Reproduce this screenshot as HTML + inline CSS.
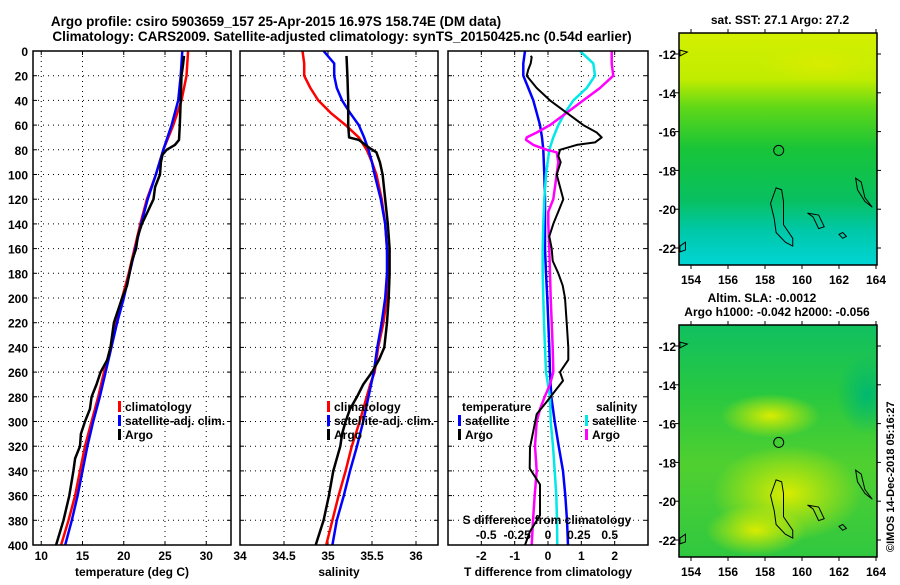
<!DOCTYPE html>
<html><head><meta charset="utf-8">
<style>
body{margin:0;background:#fff;}
svg text{font-family:"Liberation Sans",sans-serif;font-weight:bold;fill:#000;}
</style></head>
<body>
<svg id="fig" width="900" height="580" viewBox="0 0 900 580" xmlns="http://www.w3.org/2000/svg">
<defs>
<linearGradient id="sstGrad" x1="0" y1="0" x2="0" y2="1">
<stop offset="0" stop-color="#d4f000"/><stop offset="0.2" stop-color="#c0ec00"/>
<stop offset="0.32" stop-color="#60d818"/><stop offset="0.5" stop-color="#18c438"/>
<stop offset="0.72" stop-color="#08c060"/><stop offset="0.85" stop-color="#00c8a8"/><stop offset="1" stop-color="#00d4d4"/>
</linearGradient>
<linearGradient id="slaGrad" x1="0" y1="0" x2="0" y2="1">
<stop offset="0" stop-color="#10c060"/><stop offset="0.3" stop-color="#28c840"/>
<stop offset="0.6" stop-color="#50d030"/><stop offset="1" stop-color="#30c840"/>
</linearGradient>
<radialGradient id="slaBlob"><stop offset="0" stop-color="#d8ec00"/><stop offset="1" stop-color="#d8ec00" stop-opacity="0"/></radialGradient>
<radialGradient id="slaBlob2"><stop offset="0" stop-color="#00b870"/><stop offset="1" stop-color="#00b870" stop-opacity="0"/></radialGradient>
<clipPath id="clipMap1"><rect x="679" y="33" width="198" height="232"/></clipPath>
<clipPath id="clipMap2"><rect x="679" y="325" width="198" height="232"/></clipPath>
</defs>
<text x="276" y="26" font-size="13.5" text-anchor="middle">Argo profile: csiro 5903659_157 25-Apr-2015 16.97S 158.74E (DM data)</text>
<text x="342" y="41" font-size="13.5" text-anchor="middle">Climatology: CARS2009. Satellite-adjusted climatology: synTS_20150425.nc (0.54d earlier)</text>
<text x="780" y="24" font-size="12" text-anchor="middle">sat. SST: 27.1 Argo: 27.2</text>
<text x="762" y="302" font-size="12" text-anchor="middle">Altim. SLA: -0.0012</text>
<text x="777" y="316" font-size="12" text-anchor="middle">Argo h1000: -0.042 h2000: -0.056</text>
<text transform="translate(894,552) rotate(-90)" font-size="11">©IMOS 14-Dec-2018 05:16:27</text>
<g id="plots"></g>
</svg>
<script>
// ---- data ----
const depthClim = [0,20,40,60,80,100,120,140,160,180,200,220,240,260,280,300,320,340,360,380,400];
const tempClim = [27.8,27.6,27.0,26.0,24.8,23.9,22.8,22.0,21.3,20.6,19.8,19.1,18.4,17.6,16.9,16.1,15.3,14.7,14.1,13.3,12.4];
const tempSat  = [27.1,26.9,26.6,25.8,24.8,23.9,22.9,22.1,21.4,20.7,20.0,19.2,18.5,17.8,17.1,16.3,15.6,15.0,14.4,13.7,12.9];
const depthArgoT = [4,10,20,40,60,72,76,80,84,90,100,110,120,130,140,150,160,170,180,190,200,220,240,250,260,270,280,290,300,310,320,330,340,360,380,400];
const tempArgo = [27.3,27.2,27.0,26.9,26.8,26.7,26.2,25.2,24.7,24.5,24.4,23.8,23.6,22.9,22.2,21.7,21.5,21.0,20.7,20.4,19.8,18.8,18.4,18.0,17.2,16.7,16.1,15.9,15.3,14.8,14.7,14.1,13.9,13.4,12.7,11.8];
const depthSal = [0,10,20,30,40,50,60,70,80,90,100,120,140,160,180,200,220,240,260,270,280,300,320,340,360,380,400];
const salClim = [34.71,34.73,34.73,34.80,34.89,35.03,35.20,35.35,35.44,35.50,35.55,35.61,35.65,35.67,35.68,35.67,35.63,35.57,35.53,35.48,35.44,35.36,35.27,35.20,35.12,35.05,34.98];
const salSat  = [34.95,35.07,35.07,35.10,35.16,35.25,35.35,35.41,35.46,35.50,35.53,35.60,35.65,35.67,35.67,35.65,35.61,35.56,35.52,35.49,35.46,35.40,35.33,35.25,35.18,35.10,35.05];
const depthArgoS = [4,20,40,60,70,72,78,82,90,100,120,140,160,180,200,220,240,250,260,270,280,290,300,310,320,340,360,380,400];
const salArgo = [35.21,35.22,35.23,35.23,35.24,35.35,35.46,35.55,35.59,35.62,35.65,35.68,35.70,35.70,35.69,35.67,35.64,35.58,35.50,35.40,35.33,35.25,35.20,35.16,35.14,35.06,35.01,34.95,34.86];
const depthDiff = [0,10,20,30,40,50,60,70,80,100,120,140,160,180,200,220,240,260,280,300,320,340,360,380,400];
const dTsat = [-0.69,-0.74,-0.74,-0.59,-0.44,-0.34,-0.24,-0.18,-0.14,-0.11,-0.09,-0.09,-0.09,-0.06,-0.02,0.01,0.04,0.06,0.10,0.20,0.32,0.45,0.52,0.57,0.60];
const dSsatT = [0.96,1.36,1.41,1.16,0.76,0.51,0.31,0.16,0.04,-0.06,-0.11,-0.14,-0.16,-0.16,-0.14,-0.12,-0.09,-0.06,0.06,0.08,0.15,0.20,0.25,0.27,0.28];
const depthDiffArgo = [4,5,10,15,20,30,40,50,60,66,70,74,76,80,85,90,100,110,120,130,140,150,160,170,180,190,200,220,240,250,260,267,284,294,321,338,351,376,389,400];
const dTargo = [-0.52,-0.49,-0.52,-0.59,-0.64,-0.34,0.06,0.56,1.06,1.46,1.61,1.41,0.86,0.36,0.31,0.38,0.26,0.36,0.46,0.31,0.16,0.04,0.11,0.14,0.31,0.44,0.51,0.56,0.61,0.61,0.36,0.45,-0.04,-0.34,-0.54,-0.55,-0.24,-0.24,-0.54,-0.69];
const depthDiffS = [0,10,20,30,40,50,60,66,70,72,76,80,82,90,100,120,130,140,160,180,200,220,240,260,270,280,290,300,320,340,360,380,400];
const dSargoT = [1.91,1.91,1.96,1.56,1.06,0.56,0.06,-0.34,-0.64,-0.66,-0.44,-0.04,0.26,0.31,0.26,0.16,0.01,0.01,0.04,0.06,0.08,0.11,0.14,0.16,0.06,-0.10,-0.24,-0.34,-0.39,-0.34,-0.40,-0.45,-0.49];
const depthTicks = [0,20,40,60,80,100,120,140,160,180,200,220,240,260,280,300,320,340,360,380,400];
const tempTicks = [10,15,20,25,30];
const salTicks = [34,34.5,35,35.5,36];
const salTickLabels = ["34","34.5","35","35.5","36"];
const tdTicks = [-2,-1,0,1,2];
const sdTicks = [-0.5,-0.25,0,0.25,0.5];
const sdTickLabels = ["-0.5","-0.25","0","0.25","0.5"];
const latTicks = [-12,-14,-16,-18,-20,-22];
const lonTicks = [154,156,158,160,162,164];

const NS='http://www.w3.org/2000/svg';
const root=document.getElementById('plots');
function mk(tag,attrs,parent){const e=document.createElementNS(NS,tag);for(const k in attrs)e.setAttribute(k,attrs[k]);(parent||root).appendChild(e);return e;}
const Y0=51,Y1=545;
function fy(d){return Y0+(d/400)*(Y1-Y0);}
function lin(d0,d1,p0,p1){return v=>p0+(v-d0)/(d1-d0)*(p1-p0);}

function panel(name,x0,x1,xmin,xmax,xticks,xlabels,showY,xlabel){
  const g=mk('g',{});
  
  
  const fx=lin(xmin,xmax,x0,x1);
  xticks.forEach(t=>{mk('line',{x1:fx(t),x2:fx(t),y1:Y0,y2:Y1,stroke:'#000','stroke-width':1,'stroke-dasharray':'1,4'},g);
    mk('line',{x1:fx(t),x2:fx(t),y1:Y1,y2:Y1-4,stroke:'#000'},g);mk('line',{x1:fx(t),x2:fx(t),y1:Y0,y2:Y0+4,stroke:'#000'},g);});
  depthTicks.forEach(d=>{mk('line',{x1:x0,x2:x1,y1:fy(d),y2:fy(d),stroke:'#000','stroke-width':1,'stroke-dasharray':'1,4'},g);
    mk('line',{x1:x0,x2:x0+4,y1:fy(d),y2:fy(d),stroke:'#000'},g);mk('line',{x1:x1,x2:x1-4,y1:fy(d),y2:fy(d),stroke:'#000'},g);
    if(showY){const t=mk('text',{x:x0-5,y:fy(d)+5,'font-size':12,'text-anchor':'end'},g);t.textContent=d;}});
  if(xlabels){xticks.forEach((t,i)=>{const e=mk('text',{x:fx(t),y:560,'font-size':12,'text-anchor':'middle'},g);e.textContent=xlabels[i];});}
  if(xlabel){const e=mk('text',{x:(x0+x1)/2,y:576,'font-size':12,'text-anchor':'middle'},g);e.textContent=xlabel;}
  return {g,fx};
}
function series(p,xs,ds,color,name,w){
  const pts=xs.map((v,i)=>p.fx(v).toFixed(1)+','+fy(ds[i]).toFixed(1)).join(' ');
  const l=mk('polyline',{points:pts,fill:'none',stroke:color,'stroke-width':w||2.5,'stroke-linejoin':'round'},p.g);
  
  
}
function frame(p,x0,x1){mk('rect',{x:x0,y:Y0,width:x1-x0,height:Y1-Y0,fill:'none',stroke:'#000','stroke-width':1.5},p.g);}
function legendItem(g,x,y,color,label,name){
  const e=mk('g',{},g);
  
  
  mk('rect',{x:x,y:y-10,width:3,height:11,fill:color},e);
  const t=mk('text',{x:x+7,y:y,'font-size':12},e);t.textContent=label;
}

// Panel 1 temperature
const p1=panel('temperature-panel',33,231,9,33,tempTicks,tempTicks.map(String),true,'temperature (deg C)');
series(p1,tempClim,depthClim,'#ff0000','temp-climatology-line');
series(p1,tempSat,depthClim,'#0000ff','temp-satellite-line');
series(p1,tempArgo,depthArgoT,'#000000','temp-argo-line');
frame(p1,33,231);
legendItem(p1.g,118,411,'#ff0000','climatology','legend-climatology');
legendItem(p1.g,118,425,'#0000ff','satellite-adj. clim.','legend-satellite-adj');
legendItem(p1.g,118,439,'#000000','Argo','legend-argo');

// Panel 2 salinity
const p2=panel('salinity-panel',240,438,34,36.25,salTicks,salTickLabels,false,'salinity');
series(p2,salClim,depthSal,'#ff0000','sal-climatology-line');
series(p2,salSat,depthSal,'#0000ff','sal-satellite-line');
series(p2,salArgo,depthArgoS,'#000000','sal-argo-line');
frame(p2,240,438);
legendItem(p2.g,327,411,'#ff0000','climatology','legend2-climatology');
legendItem(p2.g,327,425,'#0000ff','satellite-adj. clim.','legend2-satellite-adj');
legendItem(p2.g,327,439,'#000000','Argo','legend2-argo');

// Panel 3 differences
const p3=panel('difference-panel',448,648,-3,3,tdTicks,tdTicks.map(String),false,'T difference from climatology');
series(p3,dTsat,depthDiff,'#0000ff','tdiff-satellite-line');
series(p3,dSsatT,depthDiff,'#00e8e8','sdiff-satellite-line');
series(p3,dSargoT,depthDiffS,'#ff00ff','sdiff-argo-line');
series(p3,dTargo,depthDiffArgo,'#000000','tdiff-argo-line',2);
frame(p3,448,648);
{const t=mk('text',{x:462,y:411,'font-size':12},p3.g);t.textContent='temperature';
 legendItem(p3.g,458,425,'#0000ff','satellite','legend3-t-satellite');
 legendItem(p3.g,458,439,'#000000','Argo','legend3-t-argo');
 const s=mk('text',{x:596,y:411,'font-size':12},p3.g);s.textContent='salinity';
 legendItem(p3.g,585,425,'#00e8e8','satellite','legend3-s-satellite');
 legendItem(p3.g,585,439,'#ff00ff','Argo','legend3-s-argo');
 const st=mk('text',{x:547,y:524,'font-size':12,'text-anchor':'middle'},p3.g);st.textContent='S difference from climatology';
 const sfx=lin(-0.81,0.81,448,648);
 sdTicks.forEach((v,i)=>{const e=mk('text',{x:sfx(v),y:539,'font-size':12,'text-anchor':'middle'},p3.g);e.textContent=sdTickLabels[i];});
}

// Maps
function map(name,top,kind,clip){
  const g=mk('g',{});
  
  
  const x0=679,x1=877,y0=top,y1=top+232;
  const lx=lin(154,164,691,876), ly=lin(-12,-22,top+21,top+215);
  const bg=mk('g',{'clip-path':'url(#'+clip+')'},g);
  mk('rect',{x:x0,y:y0,width:x1-x0,height:y1-y0,fill:kind==='sst'?'url(#sstGrad)':'url(#slaGrad)'},bg);
  if(kind==='sla'){
    mk('ellipse',{cx:lx(158.3),cy:ly(-15.6),rx:50,ry:22,fill:'url(#slaBlob)'},bg);
    mk('ellipse',{cx:lx(159.2),cy:ly(-19.6),rx:75,ry:48,fill:'url(#slaBlob)'},bg);
    mk('ellipse',{cx:lx(157.5),cy:ly(-21.5),rx:50,ry:25,fill:'url(#slaBlob)'},bg);
    mk('ellipse',{cx:lx(163.5),cy:ly(-14.5),rx:30,ry:40,fill:'url(#slaBlob2)'},bg);
  } else {
    mk('ellipse',{cx:lx(161),cy:ly(-12.5),rx:60,ry:18,fill:'url(#slaBlob)'},bg);
  }
  const isl=[[[158.6,-18.9],[158.9,-19.0],[159.0,-19.6],[159.0,-20.8],[159.5,-21.5],[159.5,-21.9],[159.1,-21.7],[158.6,-21.2],[158.5,-20.5],[158.3,-19.7]],
             [[160.3,-20.2],[160.9,-20.3],[161.2,-20.9],[160.9,-21.0],[160.6,-20.4]],
             [[162.9,-18.4],[163.2,-18.6],[163.4,-19.4],[163.8,-19.9],[163.4,-19.6],[163.0,-19.0]],
             [[162.2,-21.2],[162.4,-21.4],[162.2,-21.5],[162.0,-21.3]],
             [[153.4,-21.9],[153.7,-21.7],[153.7,-22.1],[153.4,-22.2]],
             [[153.4,-11.8],[153.8,-11.9],[153.4,-12.1]]];
  isl.forEach(p=>mk('polygon',{points:p.map(q=>lx(q[0])+','+ly(q[1])).join(' '),fill:'none',stroke:'#000','stroke-width':1},bg));
  mk('circle',{cx:lx(158.74),cy:ly(-16.97),r:5,fill:'none',stroke:'#000','stroke-width':1},g);
  mk('rect',{x:x0,y:y0,width:x1-x0,height:y1-y0,fill:'none',stroke:'#000','stroke-width':1.5},g);
  latTicks.forEach(v=>{mk('line',{x1:x0,x2:x0-4,y1:ly(v),y2:ly(v),stroke:'#000'},g);mk('line',{x1:x1,x2:x1+4,y1:ly(v),y2:ly(v),stroke:'#000'},g);
    const t=mk('text',{x:x0-3,y:ly(v)+5,'font-size':12,'text-anchor':'end'},g);t.textContent=v;});
  lonTicks.forEach(v=>{mk('line',{x1:lx(v),x2:lx(v),y1:y1,y2:y1+4,stroke:'#000'},g);mk('line',{x1:lx(v),x2:lx(v),y1:y0,y2:y0-4,stroke:'#000'},g);
    const t=mk('text',{x:lx(v),y:y1+19,'font-size':12,'text-anchor':'middle'},g);t.textContent=v;});
}
map('sst-map',33,'sst','clipMap1');
map('sla-map',325,'sla','clipMap2');
</script>
</body></html>
